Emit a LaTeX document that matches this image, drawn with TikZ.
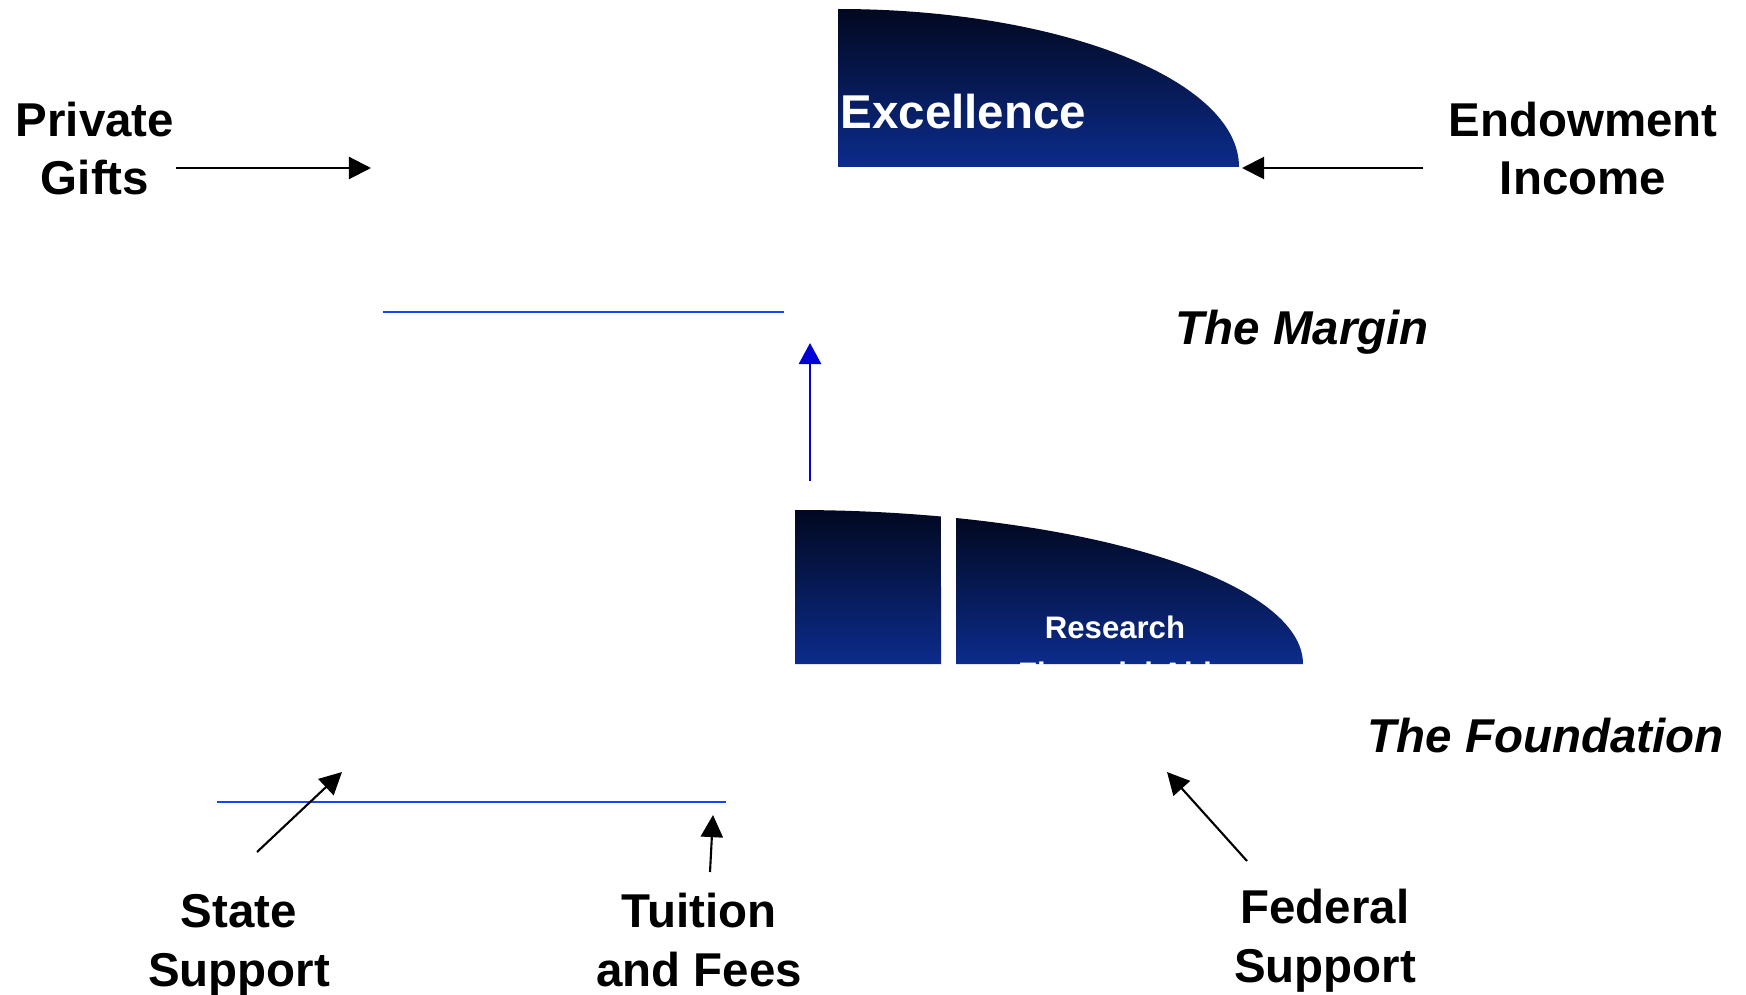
\documentclass[tikz,border=0pt]{standalone}
\usepackage{fontspec}
\setmainfont{Liberation Sans}
\usetikzlibrary{arrows.meta}

\definecolor{navytop}{RGB}{2,8,32}
\definecolor{navybottom}{RGB}{12,44,140}
\definecolor{lineblue}{RGB}{20,70,245}
\definecolor{arrowblue}{RGB}{0,0,215}

\begin{document}
\begin{tikzpicture}[x=0.01cm,y=0.01cm,
  source/.style={font=\fontsize{13.5}{16.5}\selectfont\bfseries, align=center, anchor=base, inner sep=0pt},
  level/.style={font=\fontsize{13.5}{16.5}\selectfont\bfseries\itshape, anchor=base west, inner sep=0pt},
  inside/.style={text=white, font=\fontsize{8.85}{10}\selectfont\bfseries, anchor=base, inner sep=0pt},
  block/.style={top color=navytop, bottom color=navybottom, draw=none},
  feed/.style={line width=0.6pt, -{Triangle[length=6.3pt,width=6.3pt]}},
  rise/.style={arrowblue, line width=0.7pt, -{Triangle[length=6pt,width=6.3pt]}},
  rule/.style={lineblue, line width=0.5pt}]
  \useasboundingbox (0,0) rectangle (1746,-994);

  % excellence block
  \shade[block] (838,-167) -- (838,-9) arc[start angle=90, end angle=0, x radius=401, y radius=158] -- cycle;
  \node[text=white, font=\fontsize{13.5}{16.5}\selectfont\bfseries, anchor=base west, inner sep=0pt] (excellence) at (840,-129) {Excellence};
  \coordinate (exc-corner) at (1242,-168);

  % foundation blocks
  \shade[block] (795,-664) -- (795,-510) arc[start angle=90, end angle=73.3, x radius=508, y radius=154] -- (941,-664) -- cycle;
  \begin{scope}
    \clip (956,-664) -- (956,-518) arc[start angle=71.52, end angle=0, x radius=508, y radius=154] -- cycle;
    \shade[block] (956,-664) rectangle (1303,-518);
    \node[inside] (research) at (1115,-638) {Research};
    \node[inside] (aid) at (1115,-684) {Financial Aid};
  \end{scope}

  % levels
  \draw[rule] (383,-312) -- (784,-312);
  \draw[rule] (217,-802) -- (726,-802);
  \node[level] (margin) at (1175,-344) {The Margin};
  \node[level] (foundation) at (1367,-752) {The Foundation};

  \coordinate (rise-tail) at (810,-481);
  \coordinate (rise-head) at (810,-343);
  \draw[rise] (rise-tail) -- (rise-head);

  % sources (anchored on the last line)
  \node[source] (gifts) at (95,-195) {Private\\Gifts};
  \node[source] (endowment) at (1583,-195) {Endowment\\Income};
  \node[source] (state) at (239,-986) {State\\Support};
  \node[source] (tuition) at (699,-986) {Tuition\\and Fees};
  \node[source] (federal) at (1325,-982) {Federal\\Support};

  \coordinate (gifts-tail) at (176,-168);
  \coordinate (gifts-head) at (371,-168);
  \coordinate (endow-tail) at (1423,-168);
  \coordinate (state-tail) at (257,-852);
  \coordinate (state-head) at (342,-772);
  \coordinate (tuition-tail) at (710,-872);
  \coordinate (tuition-head) at (713,-815);
  \coordinate (federal-tail) at (1247,-861);
  \coordinate (federal-head) at (1167,-772);

  \draw[feed] (gifts-tail) -- (gifts-head);
  \draw[feed] (endow-tail) -- (exc-corner);
  \draw[feed] (state-tail) -- (state-head);
  \draw[feed] (tuition-tail) -- (tuition-head);
  \draw[feed] (federal-tail) -- (federal-head);

\end{tikzpicture}
\end{document}
